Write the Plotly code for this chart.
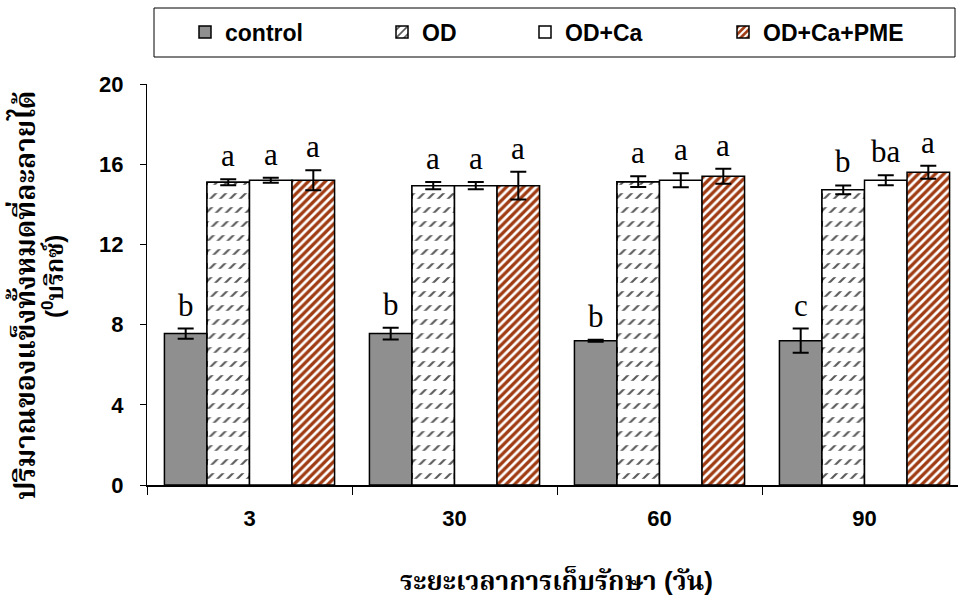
import plotly.graph_objects as go

# Storage time (days)
days = ["3", "30", "60", "90"]
treatments = ["control", "OD", "OD+Ca", "OD+Ca+PME"]

# Total soluble solids (°Brix), mean and error per treatment
control = [7.55, 7.55, 7.2, 7.2]
od = [15.1, 14.93, 15.13, 14.72]
od_ca = [15.2, 14.93, 15.2, 15.2]
od_ca_pme = [15.2, 14.93, 15.4, 15.6]

control_err = [0.25, 0.29, 0.05, 0.6]
od_err = [0.15, 0.18, 0.27, 0.22]
od_ca_err = [0.12, 0.18, 0.35, 0.25]
od_ca_pme_err = [0.5, 0.69, 0.37, 0.32]

# Statistical grouping letters
control_sig = ["b", "b", "b", "c"]
od_sig = ["a", "a", "a", "b"]
od_ca_sig = ["a", "a", "a", "ba"]
od_ca_pme_sig = ["a", "a", "a", "a"]

W, H = 960, 599
ML, MR, MT, MB = 147, 2, 84, 114
PW, PH = W - ML - MR, H - MT - MB

BARGAP = 0.17
GROUP_W = 1 - BARGAP
BAR_W = GROUP_W / 4
OUTLINE = dict(color="black", width=1.5)
CLEAR = "rgba(0,0,0,0)"

series = [
    (treatments[0], control, control_err, control_sig, "solid"),
    (treatments[1], od, od_err, od_sig, "dash"),
    (treatments[2], od_ca, od_ca_err, od_ca_sig, "blank"),
    (treatments[3], od_ca_pme, od_ca_pme_err, od_ca_pme_sig, "stripe"),
]
legend_names = ["legend", "legend2", "legend3", "legend4"]

fig = go.Figure()
for i, (name, vals, errs, sig, style) in enumerate(series):
    xs = [j - GROUP_W / 2 + BAR_W * (i + 0.5) for j in range(len(days))]
    err = dict(type="data", array=errs, visible=True, color="black", thickness=2, width=8)
    common = dict(x=xs, y=vals, width=BAR_W, legend=legend_names[i])
    if style == "solid":
        fig.add_trace(go.Bar(name=name, marker=dict(color="#8f8f8f", line=OUTLINE, opacity=1),
                             error_y=err, **common))
    elif style == "blank":
        fig.add_trace(go.Bar(name=name, marker=dict(color="white", line=OUTLINE, opacity=1),
                             error_y=err, **common))
    elif style == "stripe":
        # brown ground with white diagonal stripes
        fig.add_trace(go.Bar(name=name, error_y=err, **common,
                             marker=dict(color="#a03c14", line=OUTLINE, opacity=1,
                                         pattern=dict(shape="/", fgcolor="white", bgcolor="#a03c14",
                                                      fgopacity=1, size=6, solidity=0.45))))
    else:
        # short diagonal dashes: diagonal hatch broken by white horizontal bands
        fig.add_trace(go.Bar(name=name, **common,
                             marker=dict(color="white", line=OUTLINE, opacity=1,
                                         pattern=dict(shape="/", fgcolor="#5a5a5a", bgcolor="white",
                                                      fgopacity=1, size=7, solidity=0.3))))
        fig.add_trace(go.Bar(name=name, showlegend=False, hoverinfo="skip", **common,
                             marker=dict(color=CLEAR, line=dict(width=0), opacity=1,
                                         pattern=dict(shape="-", fgcolor="white", bgcolor=CLEAR,
                                                      fillmode="replace", fgopacity=1,
                                                      size=14, solidity=0.6))))
        fig.add_trace(go.Bar(name=name, showlegend=False, error_y=err, **common,
                             marker=dict(color=CLEAR, line=OUTLINE, opacity=1)))

fig.update_layout(barmode="overlay")

# significance letters above each bar
for i, (name, vals, errs, sig, style) in enumerate(series):
    for j in range(len(days)):
        fig.add_annotation(
            x=j - GROUP_W / 2 + BAR_W * (i + 0.5), y=vals[j] + errs[j], xref="x", yref="y",
            text=sig[j], showarrow=False, yanchor="bottom", yshift=4,
            font=dict(family="Liberation Serif, Times New Roman, serif", size=31, color="black"),
        )

tick_font = dict(family="Arial, Liberation Sans, sans-serif", size=22, color="black", weight="bold")
fig.update_xaxes(
    range=[-0.5, -0.5 + PW / 205.0],
    tickmode="array", tickvals=list(range(len(days))), ticktext=days,
    ticks="", ticklabelstandoff=13, tickfont=tick_font,
    showline=True, linecolor="black", linewidth=1.5,
    showgrid=False, zeroline=False,
    minor=dict(tickmode="array", tickvals=[-0.5, 0.5, 1.5, 2.5, 3.5],
               ticks="outside", ticklen=8, tickwidth=1, tickcolor="black", showgrid=False),
)
fig.update_yaxes(
    range=[0, 20], tickmode="array", tickvals=[0, 4, 8, 12, 16, 20],
    ticks="outside", ticklen=6, tickwidth=1, tickcolor="black",
    tickfont=tick_font, ticklabelstandoff=12,
    showline=True, linecolor="black", linewidth=1,
    showgrid=False, zeroline=False,
)

# legend: one entry per legend, placed along a bordered strip
leg_font = dict(family="Arial, Liberation Sans, sans-serif", size=23, color="black", weight="bold")
leg_px = [185, 382, 525, 723]
leg_y = (H - MB - 32) / PH
legends = {}
for name, px in zip(legend_names, leg_px):
    legends[name] = dict(
        x=(px - ML) / PW, y=leg_y, xanchor="left", yanchor="middle",
        orientation="h", font=leg_font, bgcolor=CLEAR,
        borderwidth=0, itemwidth=30,
    )
fig.update_layout(**legends)

fig.add_shape(
    type="rect", xref="paper", yref="paper",
    x0=(154 - ML) / PW, x1=(955 - ML) / PW,
    y0=(H - MB - 57) / PH, y1=(H - MB - 8) / PH,
    line=dict(color="black", width=1), fillcolor=CLEAR, layer="below",
)

# Thai text: Latin glyphs from Arial, Thai glyphs from the looped Thai face
thai_family = "Arial, Liberation Sans, Noto Serif Thai, Noto Sans Thai, sans-serif"
fig.add_annotation(
    xref="paper", yref="paper",
    x=(23 - ML) / PW, y=(H - MB - 296) / PH,
    text="ปริมาณของแข็งทั้งหมดที่ละลายได้",
    textangle=-90, showarrow=False,
    font=dict(family=thai_family, size=28, color="black", weight="bold"),
    xanchor="center", yanchor="middle",
)
fig.add_annotation(
    xref="paper", yref="paper",
    x=(53 - ML) / PW, y=(H - MB - 277) / PH,
    text="(<sup>0</sup>บริกซ์)",
    textangle=-90, showarrow=False,
    font=dict(family=thai_family, size=24, color="black", weight="bold"),
    xanchor="center", yanchor="middle",
)
fig.add_annotation(
    xref="paper", yref="paper",
    x=(556 - ML) / PW, y=(H - MB - 581) / PH,
    text="ระยะเวลาการเก็บรักษา (วัน)", showarrow=False,
    font=dict(family=thai_family, size=26, color="black", weight="bold"),
    xanchor="center", yanchor="middle",
)

fig.update_layout(
    width=W, height=H,
    margin=dict(l=ML, r=MR, t=MT, b=MB),
    paper_bgcolor="white", plot_bgcolor="white",
    showlegend=True,
)

fig.write_html("out.html")
